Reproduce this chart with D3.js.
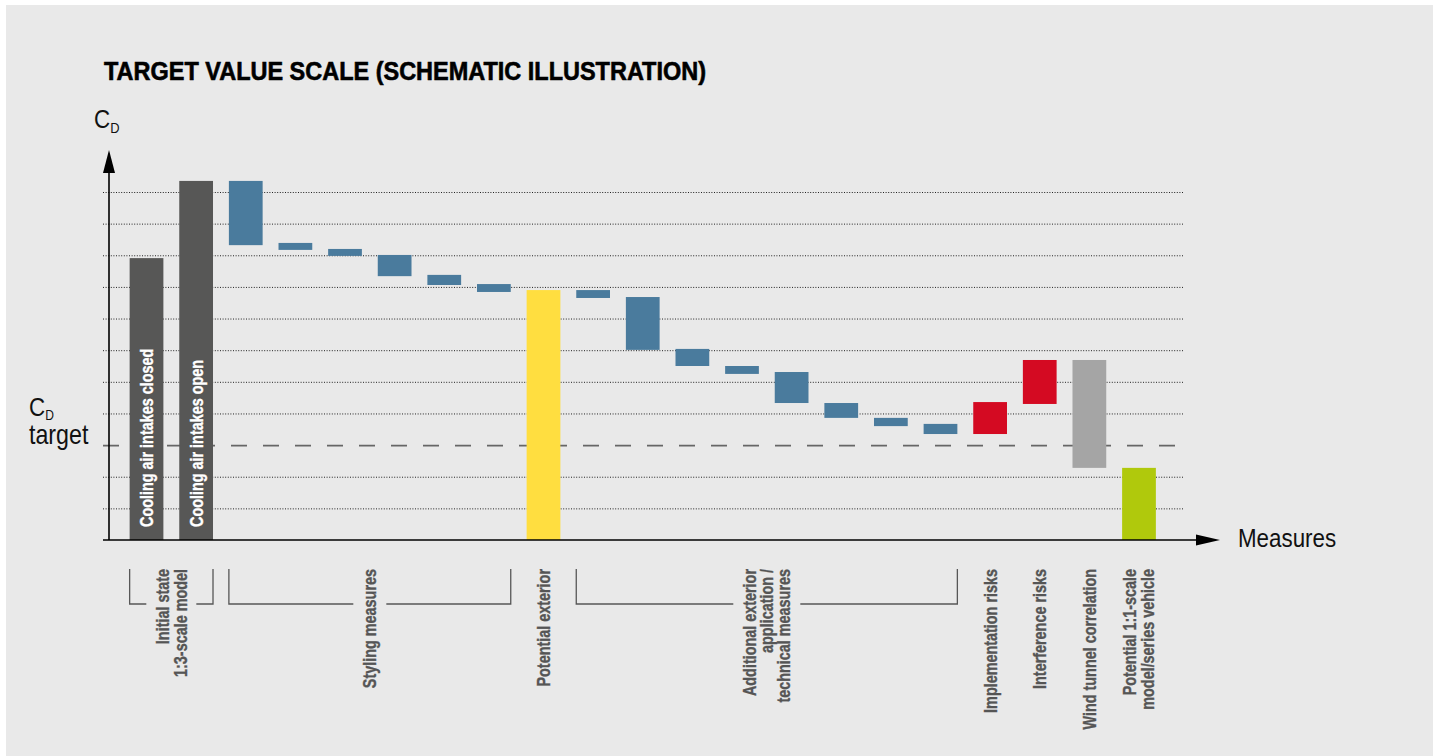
<!DOCTYPE html>
<html>
<head>
<meta charset="utf-8">
<script src="https://cdn.jsdelivr.net/npm/d3@7"></script>
<style>
  html, body { margin: 0; padding: 0; background: #fff; }
  svg { display: block; }
  text { font-family: "Liberation Sans Narrow", "Liberation Sans", Arial, sans-serif; }
</style>
</head>
<body>
<div id="chart"></div>
<script>
// Waterfall-like target value scale (schematic)

// bar keys, one per measure
const steps = ["closed", "open", "s1", "s2", "s3", "s4", "s5", "s6", "exterior",
  "a1", "a2", "a3", "a4", "a5", "a6", "a7", "a8",
  "implementation", "interference", "windTunnel", "potential"];
// bar kind (sets colour)
const kinds = ["initial", "initial", "styling", "styling", "styling", "styling", "styling", "styling", "exterior",
  "additional", "additional", "additional", "additional", "additional", "additional", "additional", "additional",
  "risk", "risk", "correlation", "potential"];
// top and bottom of each bar in grid units
const barHigh = [8.91, 11.35, 11.35, 9.39, 9.20, 9.01, 8.38, 8.09, 7.90,
  7.90, 7.68, 6.04, 5.50, 5.31, 4.33, 3.86, 3.67,
  4.36, 5.69, 5.69, 2.28];
const barLow = [0, 0, 9.32, 9.17, 8.98, 8.34, 8.06, 7.84, 0,
  7.65, 6.01, 5.50, 5.25, 4.33, 3.86, 3.60, 3.35,
  3.35, 4.30, 2.28, 0];
// labels written inside the first two bars
const innerLabels = ["Cooling air intakes closed", "Cooling air intakes open"];
// grid line values and the target value
const gridValues = [1, 2, 3, 4, 5, 6, 7, 8, 9, 10, 11];
const targetValue = 3;
// labels below the axis: lines, first bar, last bar
const groupLines = [["Initial state", "1:3-scale model"], ["Styling measures"], ["Potential exterior"],
  ["Additional exterior", "application /", "technical measures"], ["Implementation risks"],
  ["Interference risks"], ["Wind tunnel correlation"], ["Potential 1:1-scale", "model/series vehicle"]];
const groupFrom = [0, 2, 8, 9, 17, 18, 19, 20];
const groupTo = [1, 7, 8, 16, 17, 18, 19, 20];

const colors = {
  initial: "#575756",
  styling: "#4a7b9d",
  exterior: "#ffde40",
  additional: "#4a7b9d",
  risk: "#d40a22",
  correlation: "#a5a5a5",
  potential: "#b0c90c"
};

// no narrow font installed, so squeeze text horizontally
const narrowBold = 0.8, narrow = 0.86;

const width = 1438, height = 756;
const svg = d3.select("#chart").append("svg")
  .attr("width", width)
  .attr("height", height);

// panel background
svg.append("rect")
  .attr("x", 6).attr("y", 5)
  .attr("width", 1427).attr("height", 760)
  .attr("fill", "#e9e9e9");

// title
svg.append("text")
  .attr("x", 104).attr("y", 80)
  .attr("font-size", 25)
  .attr("font-weight", "bold")
  .attr("fill", "#000")
  .attr("stroke", "#000")
  .attr("stroke-width", 0.6)
  .attr("textLength", 602)
  .attr("lengthAdjust", "spacingAndGlyphs")
  .text("TARGET VALUE SCALE (SCHEMATIC ILLUSTRATION)");

const x = d3.scaleBand()
  .domain(steps)
  .range([121.7, 1163.8])
  .paddingInner(0.32)
  .paddingOuter(0.16);

const y = d3.scaleLinear()
  .domain([0, 11])
  .range([540, 192]);

const axisLeftX = 109;
const gridLeft = 103, gridRight = 1183;

// grid lines through an axis
const grid = svg.append("g")
  .attr("transform", `translate(${gridLeft},0)`)
  .call(d3.axisRight(y).tickValues(gridValues).tickSize(gridRight - gridLeft).tickFormat(""));
grid.select(".domain").remove();
grid.selectAll(".tick line")
  .attr("stroke", d => d === targetValue ? "#666" : "#222")
  .attr("stroke-width", d => d === targetValue ? 1.6 : 1)
  .attr("stroke-dasharray", d => d === targetValue ? "16,16" : "1,1.6");

// bars
svg.append("g")
  .selectAll("rect")
  .data(steps)
  .join("rect")
  .attr("x", d => x(d))
  .attr("width", x.bandwidth())
  .attr("y", (d, i) => y(barHigh[i]))
  .attr("height", (d, i) => y(barLow[i]) - y(barHigh[i]))
  .attr("fill", (d, i) => colors[kinds[i]]);

// inner labels on the first bars
innerLabels.forEach((t, i) => {
  const cx = x(steps[i]) + x.bandwidth() / 2;
  svg.append("text")
    .attr("transform", `translate(${cx + 6.5},527) rotate(-90) scale(${narrowBold},1)`)
    .attr("font-size", 18)
    .attr("font-weight", "bold")
    .attr("fill", "#fff")
    .attr("stroke", "#fff")
    .attr("stroke-width", 0.35)
    .text(t);
});

// axes
svg.append("line")
  .attr("x1", axisLeftX).attr("x2", axisLeftX)
  .attr("y1", y(0)).attr("y2", 168)
  .attr("stroke", "#000").attr("stroke-width", 1.6);
svg.append("path")
  .attr("d", `M${axisLeftX - 6},173 L${axisLeftX + 6},173 L${axisLeftX},150 Z`)
  .attr("fill", "#000");
svg.append("line")
  .attr("x1", gridLeft).attr("x2", 1200)
  .attr("y1", y(0)).attr("y2", y(0))
  .attr("stroke", "#000").attr("stroke-width", 1.6);
svg.append("path")
  .attr("d", `M1196,${y(0) - 5.5} L1196,${y(0) + 5.5} L1220,${y(0)} Z`)
  .attr("fill", "#000");

svg.append("text")
  .attr("transform", `translate(1238,547) scale(${narrow},1)`)
  .attr("font-size", 26)
  .attr("fill", "#111")
  .text("Measures");

// C_D axis label
const cdTop = svg.append("text")
  .attr("transform", `translate(94,128) scale(${narrow},1)`)
  .attr("font-size", 26)
  .attr("fill", "#111");
cdTop.append("tspan").text("C");
cdTop.append("tspan").attr("font-size", 15).attr("dy", 5).text("D");

const cdTarget = svg.append("text")
  .attr("transform", `translate(29,416) scale(${narrow},1)`)
  .attr("font-size", 26)
  .attr("fill", "#111");
cdTarget.append("tspan").text("C");
cdTarget.append("tspan").attr("font-size", 14).attr("dy", 4).text("D");
svg.append("text")
  .attr("transform", `translate(29,444) scale(${narrow},1)`)
  .attr("font-size", 27)
  .attr("fill", "#111")
  .text("target");

// group labels and brackets below the axis
const labelTop = 569, bracketY = 604;
groupLines.forEach((lines, g) => {
  const left = x(steps[groupFrom[g]]);
  const right = x(steps[groupTo[g]]) + x.bandwidth();
  const cx = (left + right) / 2;
  const n = lines.length;
  const step = n > 2 ? 17 : 18;
  lines.forEach((t, k) => {
    const lc = cx + (k - (n - 1) / 2) * step;
    svg.append("text")
      .attr("transform", `translate(${lc + 6.5},${labelTop}) rotate(-90) scale(${narrowBold},1)`)
      .attr("text-anchor", "end")
      .attr("font-size", 18)
      .attr("font-weight", "bold")
      .attr("fill", "#555")
      .attr("stroke", "#555")
      .attr("stroke-width", 0.35)
      .text(t);
  });
  if (groupTo[g] > groupFrom[g]) {
    const half = n * 17 / 2 + 8;
    const path = d3.path();
    path.moveTo(left, labelTop);
    path.lineTo(left, bracketY);
    path.lineTo(cx - half, bracketY);
    path.moveTo(cx + half, bracketY);
    path.lineTo(right, bracketY);
    path.lineTo(right, labelTop);
    svg.append("path")
      .attr("d", path.toString())
      .attr("fill", "none")
      .attr("stroke", "#575757")
      .attr("stroke-width", 1.3);
  }
});
</script>
</body>
</html>
